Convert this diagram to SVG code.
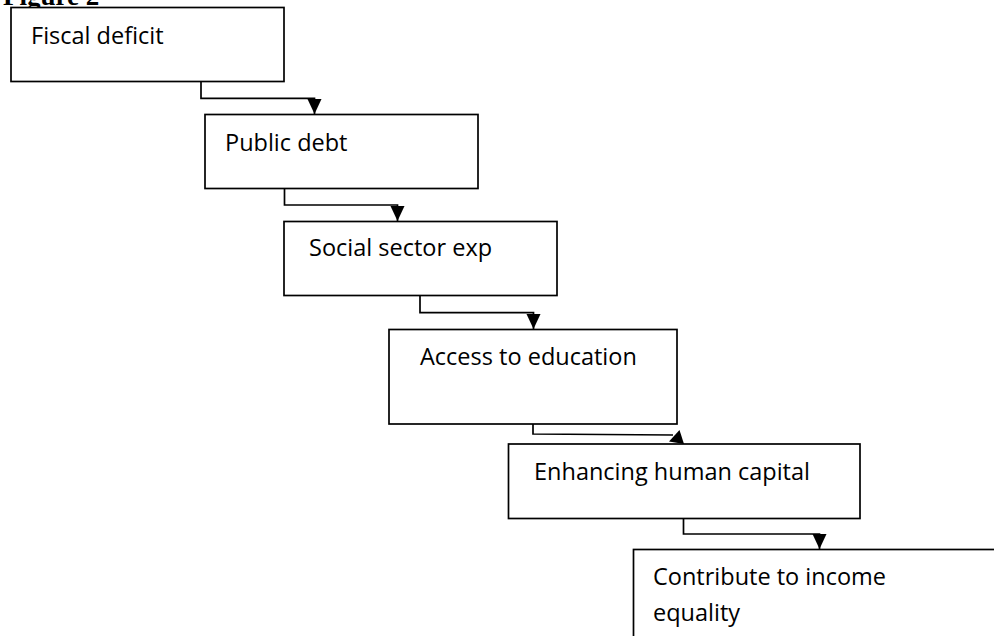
<svg xmlns="http://www.w3.org/2000/svg" width="994" height="636" viewBox="0 0 994 636">
<style>
.box{fill:#fff;stroke:#000;stroke-width:1.7}
.lbl{font-family:"Open Sans","Liberation Sans",sans-serif;font-size:23.5px;fill:#000}
.con{fill:none;stroke:#000;stroke-width:1.7}
.title{font-family:"Liberation Serif",serif;font-weight:bold;font-size:27px;fill:#000}
</style>
<defs>
<marker id="ah" markerUnits="userSpaceOnUse" markerWidth="15" markerHeight="15" refX="15" refY="7" orient="auto" viewBox="0 0 15 14">
<path d="M0,0 L15,7 L0,14 Z" fill="#000"/>
</marker>
</defs>
<rect width="994" height="636" fill="#fff"/>
<text class="title" x="3" y="5">Figure 2</text>
<g id="n1"><rect class="box" x="11" y="7.5" width="273" height="74"/><text class="lbl" x="31" y="44">Fiscal deficit</text></g>
<g id="n2"><rect class="box" x="205" y="114.5" width="273" height="74"/><text class="lbl" x="225" y="151">Public debt</text></g>
<g id="n3"><rect class="box" x="284" y="221.5" width="273" height="74"/><text class="lbl" x="309" y="256">Social sector exp</text></g>
<g id="n4"><rect class="box" x="389" y="329.5" width="288" height="94.5"/><text class="lbl" x="420" y="365">Access to education</text></g>
<g id="n5"><rect class="box" x="508.5" y="444" width="351.5" height="74.5"/><text class="lbl" x="534" y="480">Enhancing human capital</text></g>
<g id="n6"><rect class="box" x="633.5" y="549.5" width="380" height="120"/><text class="lbl" x="653" y="585">Contribute to income</text><text class="lbl" x="653" y="621">equality</text></g>
<g id="connectors">
<path class="con" d="M201,81.5 V98.3 H314.5 V114" marker-end="url(#ah)"/>
<path class="con" d="M284.5,188.5 V205 H397.5 V221" marker-end="url(#ah)"/>
<path class="con" d="M420,295.5 V312.7 H533.5 V329" marker-end="url(#ah)"/>
<path class="con" d="M533,424 V434 L673,435"/>
<polygon points="669,441.5 679.5,430 684,444" fill="#000"/>
<path class="con" d="M683.5,518.5 V534 H819.5 V549" marker-end="url(#ah)"/>
</g>
</svg>
